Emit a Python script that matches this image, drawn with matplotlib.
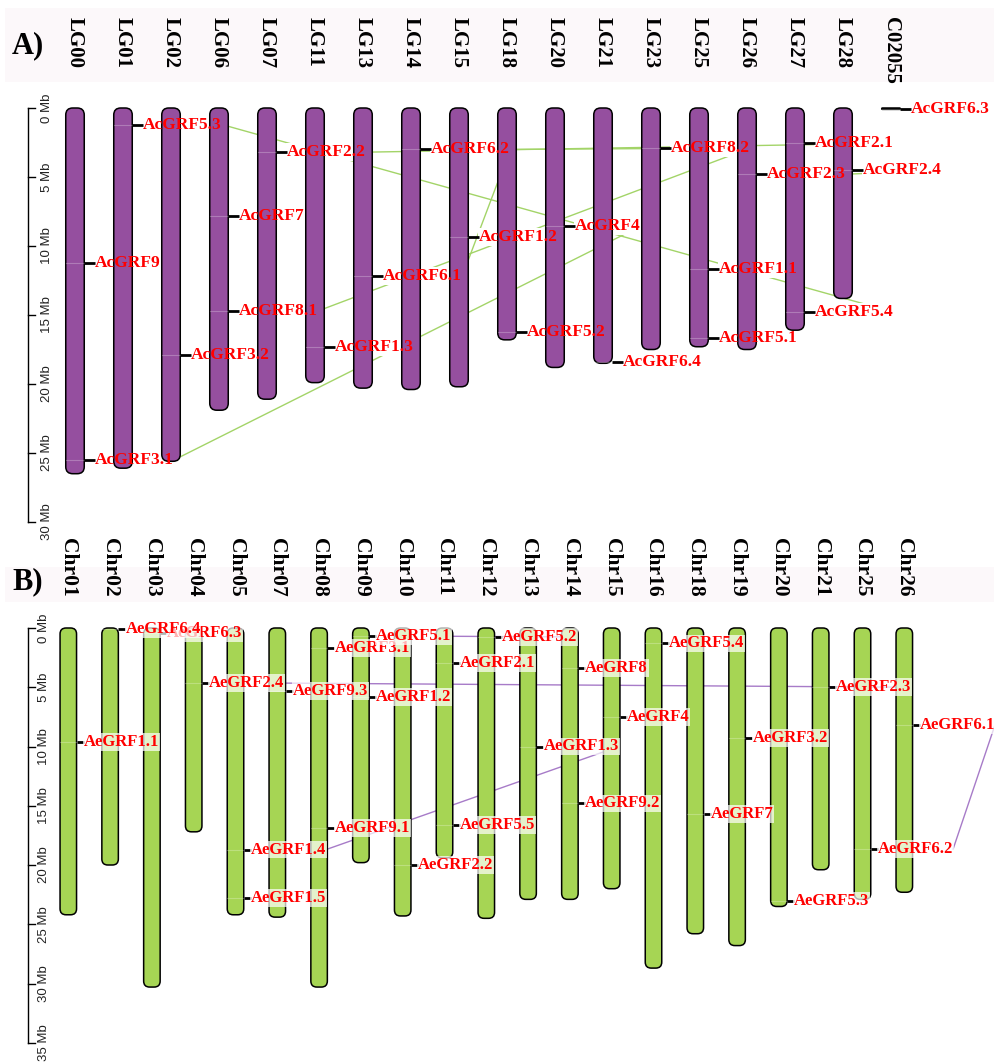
import matplotlib.pyplot as plt
from matplotlib.patches import FancyBboxPatch

SERIF = ['Liberation Serif', 'DejaVu Serif']
SANS = ['Liberation Sans', 'DejaVu Sans']

# ---- A) pineapple linkage groups, lengths in Mb ----
a_chroms = ['LG00', 'LG01', 'LG02', 'LG06', 'LG07', 'LG11', 'LG13', 'LG14', 'LG15',
            'LG18', 'LG20', 'LG21', 'LG23', 'LG25', 'LG26', 'LG27', 'LG28', 'C02055']
a_lengths = [26.5, 26.1, 25.6, 21.9, 21.1, 19.9, 20.3, 20.4, 20.2,
             16.8, 18.8, 18.5, 17.5, 17.3, 17.5, 16.1, 13.8, 0.1]
a_genes = ['AcGRF9', 'AcGRF3.1', 'AcGRF5.3', 'AcGRF3.2', 'AcGRF7', 'AcGRF8.1', 'AcGRF2.2',
           'AcGRF1.3', 'AcGRF6.1', 'AcGRF6.2', 'AcGRF1.2', 'AcGRF5.2', 'AcGRF4', 'AcGRF6.4',
           'AcGRF8.2', 'AcGRF1.1', 'AcGRF5.1', 'AcGRF2.3', 'AcGRF2.1', 'AcGRF5.4', 'AcGRF2.4',
           'AcGRF6.3']
a_gene_chrom = ['LG00', 'LG00', 'LG01', 'LG02', 'LG06', 'LG06', 'LG07',
                'LG11', 'LG13', 'LG14', 'LG15', 'LG18', 'LG20', 'LG21',
                'LG23', 'LG25', 'LG25', 'LG26', 'LG27', 'LG27', 'LG28',
                'C02055']
a_gene_pos = [11.2, 25.5, 1.2, 17.9, 7.8, 14.7, 3.2,
              17.3, 12.2, 3.0, 9.35, 16.2, 8.55, 18.4,
              2.9, 11.7, 16.7, 4.8, 2.55, 14.8, 4.5,
              0.05]
a_links = [('AcGRF5.3', 'AcGRF5.4'), ('AcGRF8.1', 'AcGRF8.2'), ('AcGRF3.1', 'AcGRF4'),
           ('AcGRF6.1', 'AcGRF6.2'), ('AcGRF2.2', 'AcGRF2.1'), ('AcGRF6.2', 'AcGRF8.2'),
           ('AcGRF2.3', 'AcGRF2.4')]

# ---- B) chromosomes, lengths in Mb ----
b_chroms = ['Chr01', 'Chr02', 'Chr03', 'Chr04', 'Chr05', 'Chr07', 'Chr08', 'Chr09', 'Chr10',
            'Chr11', 'Chr12', 'Chr13', 'Chr14', 'Chr15', 'Chr16', 'Chr18', 'Chr19', 'Chr20',
            'Chr21', 'Chr25', 'Chr26']
b_lengths = [24.2, 20.0, 30.3, 17.2, 24.2, 24.4, 30.3, 19.8, 24.3,
             19.4, 24.5, 22.9, 22.9, 22.0, 28.7, 25.8, 26.8, 23.5,
             20.4, 22.9, 22.3]
b_genes = ['AeGRF1.1', 'AeGRF6.3', 'AeGRF6.4', 'AeGRF2.4', 'AeGRF1.4', 'AeGRF1.5', 'AeGRF9.3',
           'AeGRF3.1', 'AeGRF9.1', 'AeGRF5.1', 'AeGRF1.2', 'AeGRF2.2', 'AeGRF2.1', 'AeGRF5.5',
           'AeGRF5.2', 'AeGRF1.3', 'AeGRF8', 'AeGRF9.2', 'AeGRF4', 'AeGRF5.4', 'AeGRF7',
           'AeGRF3.2', 'AeGRF5.3', 'AeGRF2.3', 'AeGRF6.2', 'AeGRF6.1']
b_gene_chrom = ['Chr01', 'Chr03', 'Chr02', 'Chr04', 'Chr05', 'Chr05', 'Chr07',
                'Chr08', 'Chr08', 'Chr09', 'Chr09', 'Chr10', 'Chr11', 'Chr11',
                'Chr12', 'Chr13', 'Chr14', 'Chr14', 'Chr15', 'Chr16', 'Chr18',
                'Chr19', 'Chr20', 'Chr21', 'Chr25', 'Chr26']
b_gene_pos = [9.6, 0.4, 0.1, 4.65, 18.7, 22.8, 5.3,
              1.7, 16.9, 0.7, 5.8, 20.0, 2.95, 16.6,
              0.75, 10.0, 3.4, 14.8, 7.5, 1.3, 15.7,
              9.3, 23.0, 5.0, 18.65, 8.2]
b_links = [('AeGRF5.1', 'AeGRF5.2'), ('AeGRF2.4', 'AeGRF2.3'),
           ('AeGRF1.4', 'AeGRF1.3'), ('AeGRF6.1', 'AeGRF6.2')]

W, H = 995, 1063
fig = plt.figure(figsize=(W / 100, H / 100), dpi=100)


def make_panel(top, bottom, x0, dx, y0, dy):
    # one axes per panel: x in chromosome index, y in Mb (downwards)
    ax = fig.add_axes([0, 1 - bottom / H, 1, (bottom - top) / H])
    ax.set_xlim(-x0 / dx, (W - x0) / dx)
    ax.set_ylim((bottom - y0) / dy, (top - y0) / dy)
    ax.axis('off')
    return ax


def draw_panel(ax, p, chroms, lengths, genes, gene_chrom, gene_pos, links):
    dx, dy, x0, y0 = p['dx'], p['dy'], p['x0'], p['y0']
    px = lambda v: (v - x0) / dx          # pixel column -> data x
    py = lambda v: (v - y0) / dy          # pixel row -> data y
    w = p['width'] / dx
    aspect = dx / dy

    # header band, panel letter, chromosome names
    ax.axhspan(py(p['band'][0]), py(p['band'][1]), xmin=0.005, xmax=1,
               color='#fcf8fa', lw=0, zorder=0)
    ax.text(px(12), py(p['letter_y']), p['letter'], ha='left', va='center',
            fontsize=22, fontweight='bold', family=SERIF)
    for i, name in enumerate(chroms):
        ax.text(i, py(p['name_top']), name, rotation=-90, ha='center', va='top',
                fontsize=p['name_size'], fontweight='bold', family=SERIF)

    # Mb scale
    sx = px(28)
    ticks = list(range(0, p['scale_max'] + 1, 5))
    ax.plot([sx, sx], [0, ticks[-1]], color='black', lw=1.0, zorder=3)
    for t in ticks:
        ax.plot([sx, sx + 7 / dx], [t, t], color='black', lw=1.0, zorder=3)
        ax.text(px(p['scale_label_x']), t, f'{t} Mb', rotation=90, ha='center',
                va='center', fontsize=9.5, family=SANS, color='#222222')

    # chromosomes
    for i, L in enumerate(lengths):
        r = min(p['radius'] / dx, L / (2 * aspect))
        box = FancyBboxPatch((i - w / 2, 0), w, L,
                             boxstyle=f'round,pad=0,rounding_size={r}',
                             mutation_aspect=aspect, fc=p['color'], ec='black',
                             lw=1.1, zorder=2)
        ax.add_patch(box)

    # gene ticks and labels
    tl = p['tick'] / dx
    ends = {}
    texts = {}
    for g, c, pos in zip(genes, gene_chrom, gene_pos):
        i = chroms.index(c)
        xr = i + w / 2
        ax.plot([i - w / 2, xr], [pos, pos], color='white', alpha=0.25, lw=0.8, zorder=2.5)
        ax.plot([xr, xr + tl], [pos, pos], color='black', lw=2, solid_capstyle='butt', zorder=3)
        kw = dict(ha='left', va='center', fontsize=p['gene_size'], fontweight='bold',
                  family=SERIF)
        if p['label_bg_under']:
            ax.text(xr + tl, pos, g, color='none', zorder=1.5,
                    bbox=dict(boxstyle='square,pad=0.05', fc='white', ec='none'), **kw)
            t = ax.text(xr + tl, pos, g, color='#ff0000', zorder=4, **kw)
        else:
            t = ax.text(xr + tl, pos, g, color='#ff0000', zorder=4,
                        bbox=dict(boxstyle='square,pad=0.05', fc='white', ec='none',
                                  alpha=0.7), **kw)
        texts[g] = (t, pos)
    return texts


pa = dict(dx=48, dy=13.8, x0=75, y0=108, width=18.5, radius=7, tick=11,
          color='#954f9f', link='#a3d468', band=(8, 82), letter='A)', letter_y=46,
          name_top=17, name_size=15, scale_max=30, scale_label_x=47,
          gene_size=12.5, label_bg_under=True)
pb = dict(dx=41.8, dy=11.85, x0=68.3, y0=628, width=16.5, radius=6, tick=7,
          color='#a6d554', link='#a77bc8', band=(567, 602), letter='B)', letter_y=582,
          name_top=538, name_size=15.5, scale_max=35, scale_label_x=44,
          gene_size=12, label_bg_under=False)

ax_a = make_panel(0, 530, pa['x0'], pa['dx'], pa['y0'], pa['dy'])
ax_b = make_panel(530, H, pb['x0'], pb['dx'], pb['y0'], pb['dy'])
texts_a = draw_panel(ax_a, pa, a_chroms, a_lengths, a_genes, a_gene_chrom, a_gene_pos, a_links)
texts_b = draw_panel(ax_b, pb, b_chroms, b_lengths, b_genes, b_gene_chrom, b_gene_pos, b_links)

# links run between the right ends of the gene labels
fig.canvas.draw()
renderer = fig.canvas.get_renderer()
for ax, texts, links, p in [(ax_a, texts_a, a_links, pa), (ax_b, texts_b, b_links, pb)]:
    inv = ax.transData.inverted()
    for g1, g2 in links:
        xs, ys = [], []
        for g in (g1, g2):
            t, pos = texts[g]
            bb = t.get_window_extent(renderer)
            xs.append(inv.transform((bb.x1, bb.y0))[0])
            ys.append(pos)
        ax.plot(xs, ys, color=p['link'], lw=1.0, zorder=1)

fig.savefig('out.png', dpi=100, facecolor='white')
